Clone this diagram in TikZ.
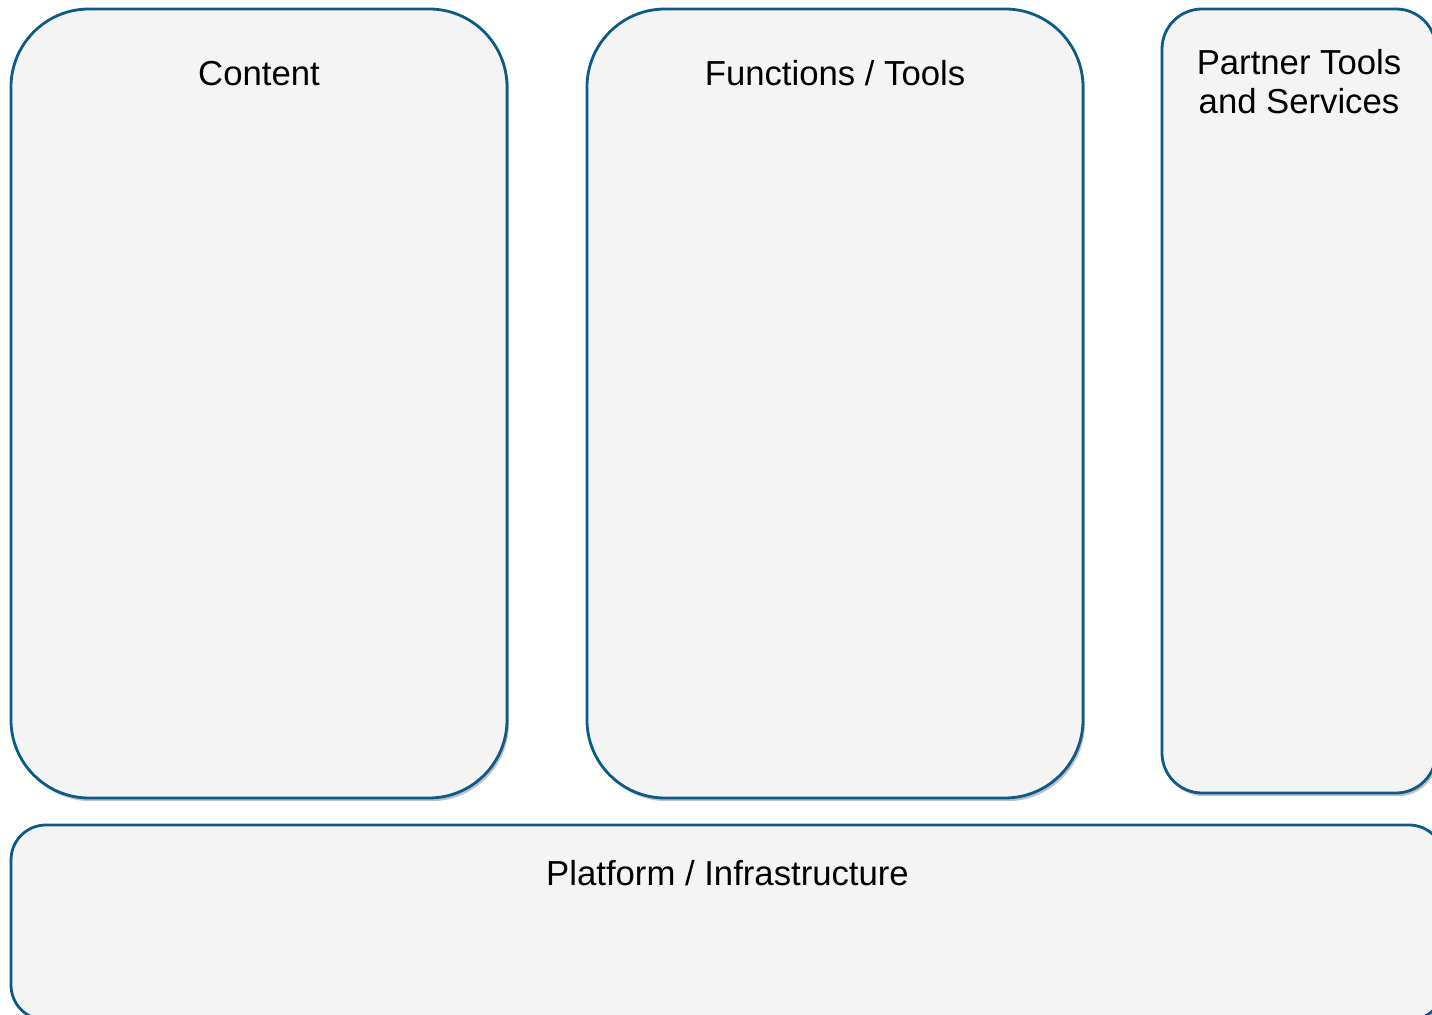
\documentclass[tikz,border=0pt]{standalone}
\usepackage{fontspec}
\setmainfont{Liberation Sans}
\usetikzlibrary{shadows}
\definecolor{boxline}{HTML}{0B5A88}
\definecolor{boxfill}{HTML}{F4F4F4}
\begin{document}
\begin{tikzpicture}[x=0.5pt,y=-0.5pt,
  panel/.style={draw=boxline, line width=1.4pt, fill=boxfill, rectangle,
    inner sep=0pt, outer sep=0pt,
    drop shadow={shadow xshift=1pt, shadow yshift=-1.6pt, opacity=0.35, fill=black!70}},
  paneltitle/.style={anchor=base, inner sep=0pt, text=black,
    font=\fontsize{17.35pt}{19.5pt}\selectfont}
]
\useasboundingbox (0,0) rectangle (1432,1015);
\clip (0,0) rectangle (1432,1015);
\node[panel, rounded corners=39pt, minimum width=248pt, minimum height=394.5pt] (content) at (259,403.5) {};
\node[panel, rounded corners=39pt, minimum width=248pt, minimum height=394.5pt] (functions) at (835,403.5) {};
\node[panel, rounded corners=20pt, minimum width=137pt, minimum height=392pt] (partner) at (1299,401) {};
\node[panel, rounded corners=17.5pt, minimum width=716.5pt, minimum height=97.5pt] (platform) at (727.5,922.5) {};
\node[paneltitle] (contentT) at (259,86) {Content};
\node[paneltitle] (functionsT) at (835,86) {Functions / Tools};
\node[paneltitle] (partnerT1) at (1299,75) {Partner Tools};
\node[paneltitle] (partnerT2) at (1299,114) {and Services};
\node[paneltitle] (platformT) at (727.5,886) {Platform / Infrastructure};
\end{tikzpicture}
\end{document}
